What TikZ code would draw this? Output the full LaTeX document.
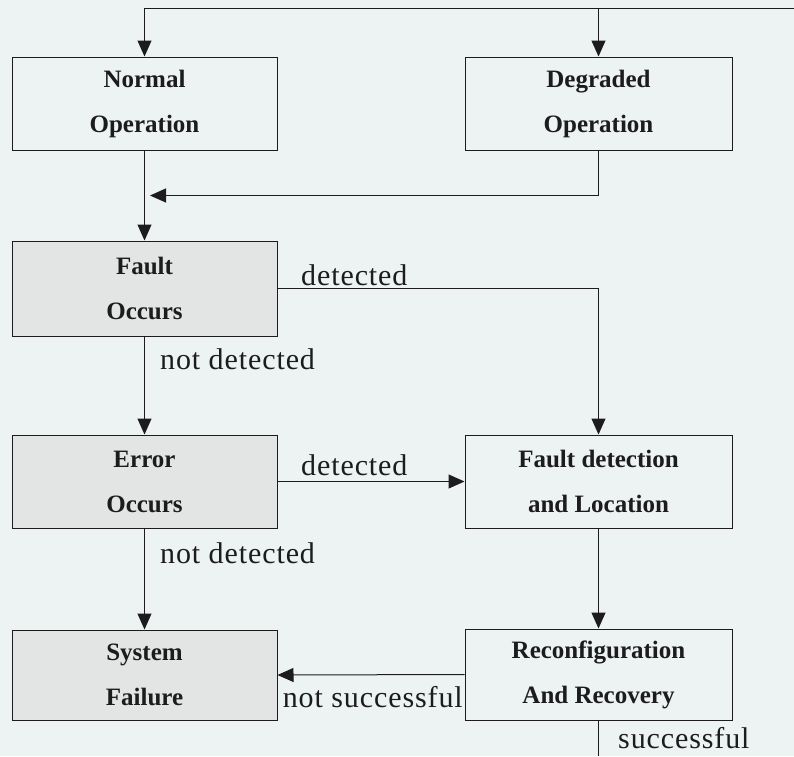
\documentclass[tikz,border=0pt]{standalone}
\usepackage{fontspec}
\setmainfont{Liberation Serif}
\newfontfamily\lblfont[LetterSpace=3]{Liberation Serif}
\usetikzlibrary{arrows.meta,calc}
\definecolor{paper}{RGB}{237,242,243}
\definecolor{shade}{RGB}{227,229,229}
\definecolor{ink}{RGB}{28,28,28}
\begin{document}
\begin{tikzpicture}[x=1pt,y=-1pt,
  box/.style={draw=ink,line width=1pt,inner sep=0pt,align=center,
    font=\bfseries\fontsize{25}{45}\selectfont,text=ink},
  leftbox/.style={box,minimum width=265pt},
  rightbox/.style={box,minimum width=267pt},
  shaded/.style={fill=shade},
  link/.style={draw=ink,line width=1pt},
  arr/.style={link,-{Triangle[length=16pt,width=14pt]}},
  lbl/.style={font=\lblfont\fontsize{30}{36}\selectfont,text=ink,inner sep=0pt}]

% page background
\fill[paper] (0,0) rectangle (794,756);
\useasboundingbox (0,0) rectangle (794,756);

% states
\node[leftbox,minimum height=93pt] (normal) at (144.5,103.5) {Normal\\Operation};
\node[rightbox,minimum height=93pt] (degraded) at (598.5,103.5) {Degraded\\Operation};
\node[leftbox,shaded,minimum height=95pt] (fault) at (144.5,288.5) {Fault\\Occurs};
\node[leftbox,shaded,minimum height=93pt] (error) at (144.5,481.5) {Error\\Occurs};
\node[rightbox,minimum height=93pt] (detect) at (598.5,481.5) {Fault detection\\and Location};
\node[leftbox,shaded,minimum height=90pt] (failure) at (144.5,675) {System\\Failure};
\node[rightbox,minimum height=91pt] (recover) at (598.5,674.5) {Reconfiguration\\And Recovery};

% free ends of the loop lines
\coordinate (loopin) at (794,8);
\coordinate (loopout) at (598.5,756);

% return loop along the top
\draw[arr] (loopin) -| (normal.north);
\draw[arr] (degraded.north |- loopin) -- (degraded.north);

% both operating states lead to a fault
\draw[arr] (normal.south) -- (fault.north);
\draw[arr,shorten >=5.5pt] (degraded.south) |- ($(normal.south)!0.5!(fault.north)$);

% fault handling
\draw[arr] (fault.east) -| (detect.north);
\draw[arr] (fault.south) -- (error.north);
\draw[arr] (error.east) -- (detect.west);
\draw[arr] (error.south) -- (failure.north);
\draw[arr] (detect.south) -- (recover.north);
\draw[arr] (recover.west) -- (failure.east);
\draw[link] (recover.south) -- (loopout);

% connector labels
\node[lbl,anchor=base west] (l1) at (301,285) {detected};
\node[lbl,anchor=base west] (l2) at (160,369) {not detected};
\node[lbl,anchor=base west] (l3) at (301,475) {detected};
\node[lbl,anchor=base west] (l4) at (160,563) {not detected};
\node[lbl,anchor=base east] (l5) at (463,707) {not successful};
\node[lbl,anchor=base west] (l6) at (618,748) {successful};
\end{tikzpicture}
\end{document}
